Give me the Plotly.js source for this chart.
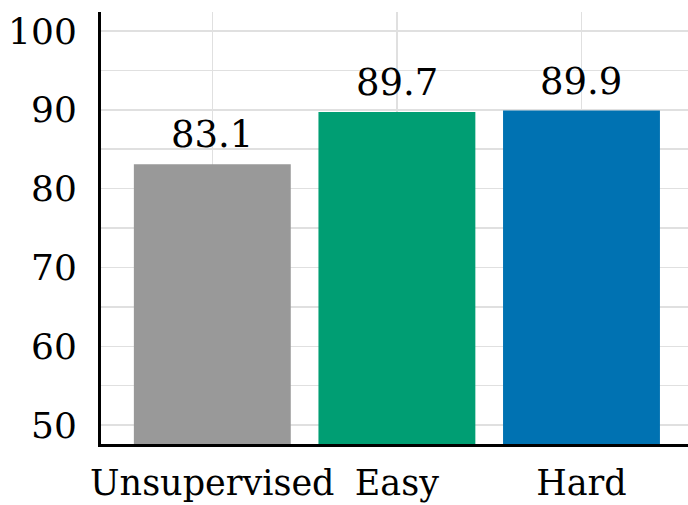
<!DOCTYPE html>
<html>
<head>
<meta charset="utf-8">
<script src="https://cdn.plot.ly/plotly-3.0.1.min.js"></script>
<style>
  html, body { margin: 0; padding: 0; background: #fff; }
  #chart { width: 688px; height: 505px; }
</style>
</head>
<body>
<div id="chart"></div>
<script>
// Accuracy per training setting
const categories = ["Unsupervised", "Easy", "Hard"];
const accuracy = [83.1, 89.7, 89.9];
const barColors = ["#999999", "#009E73", "#0072B2"];
const yTickValues = [50, 60, 70, 80, 90, 100];

const serif = "DejaVu Serif";

const trace = {
  type: "bar",
  x: categories,
  y: accuracy,
  marker: { color: barColors, line: { width: 0 } },
  hoverinfo: "skip"
};

// Value labels sitting just above each bar
const valueLabels = categories.map((c, i) => ({
  x: c,
  y: accuracy[i],
  xref: "x",
  yref: "y",
  text: accuracy[i].toFixed(1),
  showarrow: false,
  yanchor: "bottom",
  yshift: 6,
  font: { family: serif, size: 37, color: "#000" }
}));

const layout = {
  width: 688,
  height: 505,
  margin: { l: 101, r: 0, t: 12, b: 61 },
  paper_bgcolor: "#fff",
  plot_bgcolor: "#fff",
  bargap: 0.15,
  showlegend: false,
  font: { family: serif, color: "#000" },
  annotations: valueLabels,
  xaxis: {
    range: [-0.603, 2.577],
    showgrid: true,
    gridcolor: "#e0e0e0",
    gridwidth: 1.5,
    showline: true,
    linecolor: "#000",
    linewidth: 3,
    ticks: "",
    tickangle: 0,
    tickfont: { family: serif, size: 35, color: "#000" },
    ticklabelstandoff: 6,
    zeroline: false,
    fixedrange: true
  },
  yaxis: {
    range: [47.6, 102.4],
    tickvals: yTickValues,
    showgrid: true,
    gridcolor: "#e0e0e0",
    gridwidth: 1.5,
    minor: { dtick: 5, tick0: 0, showgrid: true, gridcolor: "#e0e0e0", gridwidth: 1.5 },
    showline: true,
    linecolor: "#000",
    linewidth: 3,
    ticks: "",
    tickfont: { family: serif, size: 36, color: "#000" },
    ticklabelstandoff: 14,
    zeroline: false,
    fixedrange: true
  }
};

Plotly.newPlot("chart", [trace], layout, { displayModeBar: false, staticPlot: true });
</script>
</body>
</html>
